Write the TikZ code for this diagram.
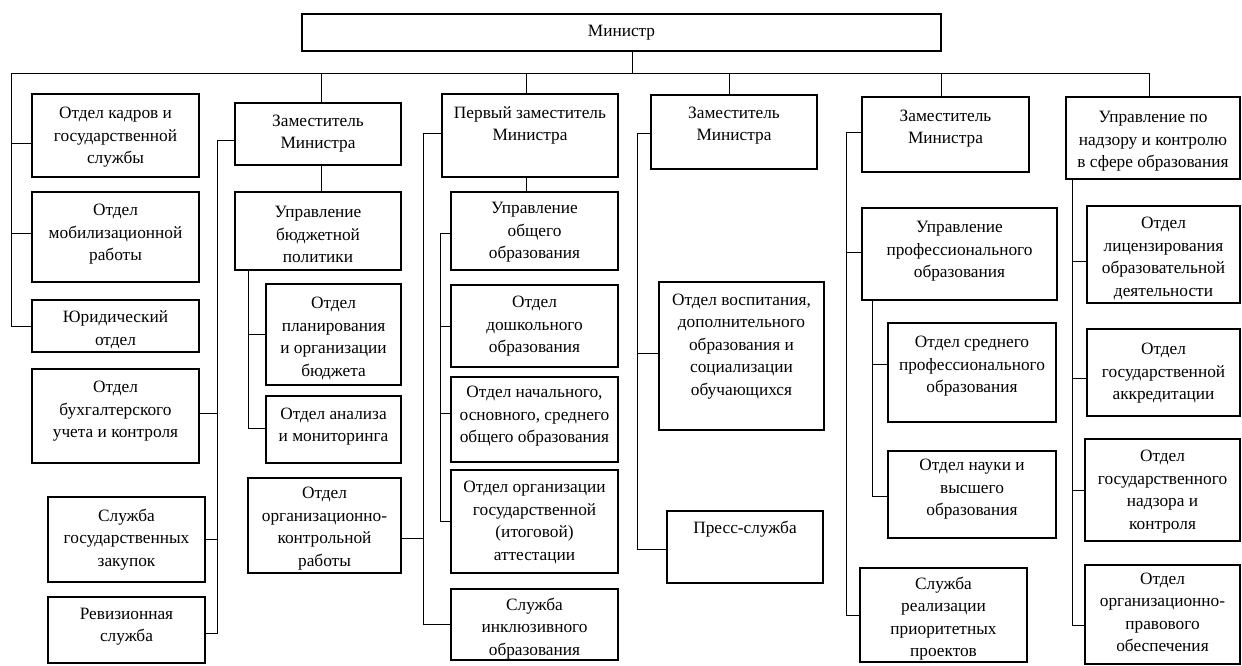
\documentclass[tikz,border=0pt]{standalone}
\usepackage{fontspec}
\setmainfont{Liberation Serif}
\usetikzlibrary{calc}
\tikzset{
  box/.style={draw=black, line width=1.1pt, inner sep=0pt, outer sep=0pt, fill=white},
  txt/.style={align=center, inner sep=0pt, font=\fontsize{17.3}{22.5}\selectfont},
  conn/.style={draw=black, line width=0.9pt}
}
\newcommand\obox[7]{%
  \node[box, minimum width={(#4-#2)*1pt}, minimum height={(#5-#3)*1pt}, anchor=north west] (#1) at (#2,#3) {};
  \node[txt] (#1t) at ({(#2+#4)/2},{#6+1.5}) {#7};
}
\begin{document}
\begin{tikzpicture}[x=1pt,y=-1pt]
\useasboundingbox[fill=white] (0,0) rectangle (1242,666);
% vertical line positions
\coordinate (busL) at (11,73);
\coordinate (busR) at (1149,73);
\coordinate (L2) at (217,0);
\coordinate (L2i) at (248,0);
\coordinate (L3) at (423,0);
\coordinate (L3i) at (440,0);
\coordinate (L4) at (637,0);
\coordinate (L5) at (846,0);
\coordinate (L5i) at (872,0);
\coordinate (L6) at (1072,0);

\obox{min}{302}{14}{941}{51}{31}{Министр}
\obox{kadr}{32}{94}{199}{177}{136}{Отдел кадров и\\государственной\\службы}
\obox{mob}{32}{192}{199}{282}{233}{Отдел\\мобилизационной\\работы}
\obox{jur}{32}{300}{199}{352}{328}{Юридический\\отдел}
\obox{buh}{32}{369}{199}{463}{410}{Отдел\\бухгалтерского\\учета и контроля}
\obox{sgz}{48}{497}{205}{582}{538}{Служба\\государственных\\закупок}
\obox{rev}{48}{597}{205}{663}{625}{Ревизионная\\служба}
\obox{z1}{235}{103}{401}{165}{132}{Заместитель\\Министра}
\obox{ubp}{235}{192}{401}{270}{233}{Управление\\бюджетной\\политики}
\obox{plan}{266}{284}{401}{385}{337}{Отдел\\планирования\\и организации\\бюджета}
\obox{ana}{266}{396}{401}{463}{425}{Отдел анализа\\и мониторинга}
\obox{ork}{248}{478}{401}{573}{527}{Отдел\\организационно-\\контрольной\\работы}
\obox{p1}{442}{94}{618}{177}{124}{Первый заместитель\\Министра}
\obox{uoo}{451}{192}{618}{270}{231}{Управление\\общего\\образования}
\obox{dosh}{451}{285}{618}{367}{325}{Отдел\\дошкольного\\образования}
\obox{nach}{451}{377}{618}{462}{415}{Отдел начального,\\основного, среднего\\общего образования}
\obox{att}{451}{470}{618}{573}{521}{Отдел организации\\государственной\\(итоговой)\\аттестации}
\obox{inc}{451}{589}{618}{660}{627}{Служба\\инклюзивного\\образования}
\obox{z2}{651}{95}{817}{169}{124}{Заместитель\\Министра}
\obox{vosp}{659}{282}{824}{430}{345}{Отдел воспитания,\\дополнительного\\образования и\\социализации\\обучающихся}
\obox{press}{667}{511}{823}{583}{528}{Пресс-служба}
\obox{z3}{862}{97}{1029}{172}{127}{Заместитель\\Министра}
\obox{upo}{862}{208}{1057}{300}{250}{Управление\\профессионального\\образования}
\obox{sred}{888}{323}{1056}{422}{365}{Отдел среднего\\профессионального\\образования}
\obox{nauk}{888}{451}{1056}{538}{488}{Отдел науки и\\высшего\\образования}
\obox{srp}{860}{568}{1027}{662}{617}{Служба\\реализации\\приоритетных\\проектов}
\obox{nad}{1066}{97}{1240}{179}{140}{Управление по\\надзору и контролю\\в сфере образования}
\obox{lic}{1087}{206}{1240}{303}{257}{Отдел\\лицензирования\\образовательной\\деятельности}
\obox{akk}{1087}{329}{1240}{416}{372}{Отдел\\государственной\\аккредитации}
\obox{nadz}{1085}{439}{1240}{541}{490}{Отдел\\государственного\\надзора и\\контроля}
\obox{orgp}{1085}{565}{1240}{664}{611}{Отдел\\организационно-\\правового\\обеспечения}

% top bus
\draw[conn] ([xshift=11pt]min.south) -- ([xshift=11pt]min.south |- busL);
\draw[conn] (busL) -- (busR) -- (busR |- nad.north);
% column 1
\draw[conn] (busL) -- (busL |- jur.west) -- (jur.west);
\draw[conn] ([yshift=-8pt]kadr.west) -- ([yshift=-8pt]kadr.west -| busL);
\draw[conn] ([yshift=4pt]mob.west) -- ([yshift=4pt]mob.west -| busL);
% column 2
\draw[conn] ([xshift=3pt]z1.north |- busL) -- ([xshift=3pt]z1.north);
\draw[conn] ([xshift=3pt]z1.south) -- ([xshift=3pt]ubp.north);
\draw[conn] ([yshift=-6pt]z1.west) -- ([yshift=-6pt]z1.west -| L2) -- ([yshift=-3pt]rev.east -| L2) -- ([yshift=-3pt]rev.east);
\draw[conn] ([yshift=3pt]buh.east) -- ([yshift=3pt]buh.east -| L2);
\draw[conn] (sgz.east) -- (sgz.east -| L2);
\draw[conn] (ubp.south -| L2i) -- ([yshift=1pt]ana.west -| L2i) -- ([yshift=1pt]ana.west);
\draw[conn] (plan.west) -- (plan.west -| L2i);
\draw[conn] ([yshift=-13pt]ork.east) -- ([yshift=-13pt]ork.east -| L3);
% column 3
\draw[conn] ([xshift=-4pt]p1.north |- busL) -- ([xshift=-4pt]p1.north);
\draw[conn] ([xshift=-4pt]p1.south) -- ([xshift=-4pt]p1.south |- uoo.north);
\draw[conn] ([yshift=2pt]p1.west) -- ([yshift=2pt]p1.west -| L3) -- (inc.west -| L3) -- (inc.west);
\draw[conn] ([yshift=-2pt]uoo.west) -- ([yshift=-2pt]uoo.west -| L3i) -- (att.west -| L3i) -- (att.west);
\draw[conn] (dosh.west) -- (dosh.west -| L3i);
\draw[conn] ([yshift=6pt]nach.west) -- ([yshift=6pt]nach.west -| L3i);
% column 4
\draw[conn] ([xshift=-5pt]z2.north |- busL) -- ([xshift=-5pt]z2.north);
\draw[conn] ([yshift=-1pt]z2.west) -- ([yshift=-1pt]z2.west -| L4) -- ([yshift=-2pt]press.west -| L4) -- ([yshift=-2pt]press.west);
\draw[conn] ([yshift=3pt]vosp.west) -- ([yshift=3pt]vosp.west -| L4);
% column 5
\draw[conn] ([xshift=-4pt]z3.north |- busL) -- ([xshift=-4pt]z3.north);
\draw[conn] ([yshift=2pt]z3.west) -- ([yshift=2pt]z3.west -| L5) -- (srp.west -| L5) -- (srp.west);
\draw[conn] ([yshift=2pt]upo.west) -- ([yshift=2pt]upo.west -| L5);
\draw[conn] (upo.south -| L5i) -- ([yshift=-2pt]nauk.west -| L5i) -- ([yshift=-2pt]nauk.west);
\draw[conn] ([yshift=8pt]sred.west) -- ([yshift=8pt]sred.west -| L5i);
% column 6
\draw[conn] (nad.south -| L6) -- ([yshift=-11pt]orgp.west -| L6) -- ([yshift=-11pt]orgp.west);
\draw[conn] ([yshift=-7pt]lic.west) -- ([yshift=-7pt]lic.west -| L6);
\draw[conn] ([yshift=-6pt]akk.west) -- ([yshift=-6pt]akk.west -| L6);
\draw[conn] (nadz.west) -- (nadz.west -| L6);
\end{tikzpicture}
\end{document}
